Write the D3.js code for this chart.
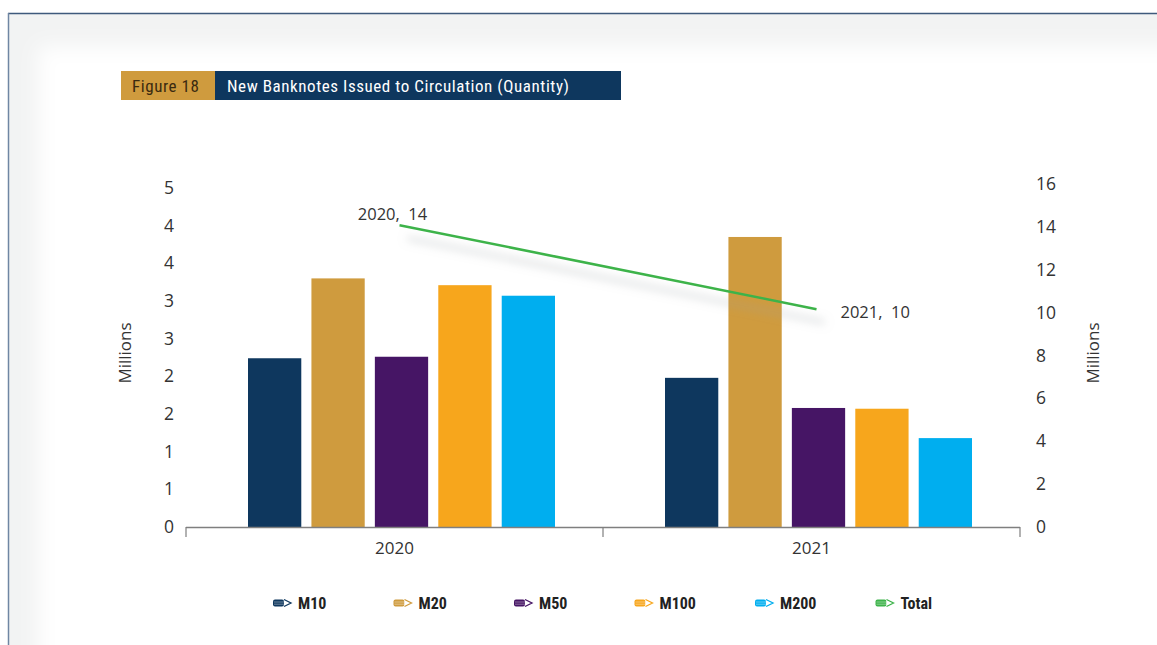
<!DOCTYPE html>
<html><head><meta charset="utf-8">
<script src="https://cdn.jsdelivr.net/npm/d3@7"></script>
<style>
html,body{margin:0;padding:0;background:#fff;}
svg{display:block;}
</style></head>
<body>
<svg id="c" width="1157" height="645"></svg>
<script>
const categories = ["2020", "2021"];
const seriesNames = ["M10", "M20", "M50", "M100", "M200"];
const m10 = [2.24, 1.98];
const m20 = [3.30, 3.85];
const m50 = [2.26, 1.58];
const m100 = [3.21, 1.57];
const m200 = [3.07, 1.18];
const total = [14.08, 10.16];
const totalLabels = ["2020, 14", "2021, 10"];
const leftTicks = [0, 0.5, 1, 1.5, 2, 2.5, 3, 3.5, 4, 4.5];
const leftTickLabels = ["0", "1", "1", "2", "2", "3", "3", "4", "4", "5"];
const rightTicks = [0, 2, 4, 6, 8, 10, 12, 14, 16];
const colors = {M10:"#0e375e", M20:"#cf9b3e", M50:"#461565", M100:"#f7a61c", M200:"#00aeef", Total:"#3db34a"};
const seriesValues = {M10:m10, M20:m20, M50:m50, M100:m100, M200:m200};

const svg = d3.select("#c");
const defs = svg.append("defs");
const fb = defs.append("filter").attr("id","soft").attr("x","-10%").attr("y","-10%").attr("width","120%").attr("height","120%");
fb.append("feGaussianBlur").attr("stdDeviation", 10);
const sh = defs.append("filter").attr("id","lineShadow").attr("x","-20%").attr("y","-100%").attr("width","140%").attr("height","400%");
sh.append("feGaussianBlur").attr("in","SourceAlpha").attr("stdDeviation",5).attr("result","b");
sh.append("feOffset").attr("in","b").attr("dx",8).attr("dy",13).attr("result","o");
sh.append("feFlood").attr("flood-color","#9aa0a4").attr("flood-opacity",0.6);
sh.append("feComposite").attr("in2","o").attr("operator","in").attr("result","s");
const mg = sh.append("feMerge");
mg.append("feMergeNode").attr("in","s");
mg.append("feMergeNode").attr("in","SourceGraphic");

// page frame
svg.append("rect").attr("x",9).attr("y",14).attr("width",1160).attr("height",640).attr("fill","#f2f3f3");
svg.append("rect").attr("x",38).attr("y",46).attr("width",1150).attr("height",640).attr("fill","#fff").attr("filter","url(#soft)");
svg.append("line").attr("x1",8).attr("x2",1157).attr("y1",13.5).attr("y2",13.5).attr("stroke","#3f5a7c").attr("stroke-width",1.5);
svg.append("line").attr("x1",8.5).attr("x2",8.5).attr("y1",13).attr("y2",645).attr("stroke","#6f86a3").attr("stroke-width",1.5);

// title
const narrow = "'Liberation Sans Narrow','Arial Narrow','Roboto Condensed',sans-serif";
svg.append("rect").attr("x",121).attr("y",71).attr("width",94).attr("height",29).attr("fill","#cf9b3e");
svg.append("rect").attr("x",215).attr("y",71).attr("width",406).attr("height",29).attr("fill","#0e375e");
svg.append("text").attr("x",132).attr("y",92).attr("font-family",narrow).attr("font-size",17)
  .attr("textLength",67).attr("lengthAdjust","spacing").attr("fill","#3a2a10").text("Figure 18");
svg.append("text").attr("x",227).attr("y",92).attr("font-family",narrow).attr("font-size",17)
  .attr("textLength",342).attr("lengthAdjust","spacing").attr("fill","#fff").text("New Banknotes Issued to Circulation (Quantity)");

// scales
const x0 = d3.scaleBand().domain(categories).range([186, 1020]).padding(0);
const x1 = d3.scaleBand().domain(seriesNames).range([62, 369]).paddingInner(0.16).paddingOuter(0);
const yL = d3.scaleLinear().domain([0, 4.5]).range([527, 188]);
const yR = d3.scaleLinear().domain([0, 16]).range([527, 184]);
const font = "'Open Sans','Noto Sans',sans-serif";

// bars
categories.forEach((c, i) => {
  const g = svg.append("g").attr("transform", `translate(${x0(c)},0)`);
  g.selectAll("rect").data(seriesNames).join("rect")
    .attr("x", s => x1(s)).attr("width", x1.bandwidth())
    .attr("y", s => yL(seriesValues[s][i])).attr("height", s => yL(0) - yL(seriesValues[s][i]))
    .attr("fill", s => colors[s]);
});

// x axis
const xAxis = svg.append("g").attr("transform","translate(0,527)")
  .call(d3.axisBottom(x0).tickSize(0).tickFormat(d=>d));
xAxis.select(".domain").remove();
xAxis.selectAll("text").attr("font-family",font).attr("font-size",17).attr("fill","#333").attr("dy","1.4em");
svg.append("line").attr("x1",186).attr("x2",1020).attr("y1",527.5).attr("y2",527.5).attr("stroke","#7f7f7f").attr("stroke-width",1.5);
const bounds = [x0.range()[0], x0(categories[1]), x0.range()[1]];
svg.selectAll(".ct").data(bounds).join("line").attr("class","ct")
  .attr("x1",d=>d).attr("x2",d=>d).attr("y1",527).attr("y2",537).attr("stroke","#7f7f7f").attr("stroke-width",1.2);

// left axis
const lAx = svg.append("g").attr("transform","translate(174,0)")
  .call(d3.axisLeft(yL).tickValues(leftTicks).tickSize(0).tickFormat((d,i)=>leftTickLabels[i]));
lAx.select(".domain").remove();
lAx.selectAll("text").attr("font-family",font).attr("font-size",17.5).attr("fill","#333").attr("x",0);

// right axis
const rAx = svg.append("g").attr("transform","translate(1036,0)")
  .call(d3.axisRight(yR).tickValues(rightTicks).tickSize(0));
rAx.select(".domain").remove();
rAx.selectAll("text").attr("font-family",font).attr("font-size",17.5).attr("fill","#333").attr("x",0);

// axis titles
svg.append("text").attr("transform","translate(131,353) rotate(-90)").attr("text-anchor","middle")
  .attr("font-family",font).attr("font-size",17).attr("fill","#333").text("Millions");
svg.append("text").attr("transform","translate(1099,353) rotate(-90)").attr("text-anchor","middle")
  .attr("font-family",font).attr("font-size",17).attr("fill","#333").text("Millions");

// total line
const lx = c => x0(c) + x0.bandwidth()/2 + 5;
const line = d3.line().x((d,i)=>lx(categories[i])).y(d=>yR(d));
svg.append("path").datum(total).attr("d", line).attr("fill","none")
  .attr("stroke", colors.Total).attr("stroke-width", 2.5).attr("filter","url(#lineShadow)");
svg.append("text").attr("x", lx(categories[0]) - 7).attr("y", yR(total[0]) - 5).attr("text-anchor","middle")
  .attr("font-family",font).attr("font-size",16.5).attr("fill","#333").attr("xml:space","preserve").text(totalLabels[0].replace(", ",",  "));
svg.append("text").attr("x", lx(categories[1]) + 24).attr("y", yR(total[1]) + 9)
  .attr("font-family",font).attr("font-size",16.5).attr("fill","#333").attr("xml:space","preserve").text(totalLabels[1].replace(", ",",  "));

// legend
const legendItems = seriesNames.concat(["Total"]);
const lg = svg.append("g").attr("transform","translate(273,603)");
const lgi = lg.selectAll("g").data(legendItems).join("g").attr("transform",(d,i)=>`translate(${i*120.5},0)`);
lgi.append("rect").attr("x",0).attr("y",-3.5).attr("width",11).attr("height",7).attr("rx",2).attr("fill",d=>colors[d]);
lgi.append("line").attr("x1",1).attr("x2",11).attr("y1",-1).attr("y2",-1).attr("stroke","#fff").attr("stroke-opacity",0.5).attr("stroke-width",0.8);
lgi.append("line").attr("x1",1).attr("x2",11).attr("y1",1.2).attr("y2",1.2).attr("stroke","#fff").attr("stroke-opacity",0.5).attr("stroke-width",0.8);
lgi.append("path").attr("d","M11,-3.5 L18,0 L11,3.5").attr("fill","#fff").attr("stroke",d=>colors[d]).attr("stroke-width",1.3);
lgi.append("text").attr("x",25).attr("y",5.5).attr("font-family",narrow).attr("font-size",16).attr("font-weight","bold").attr("fill","#222").text(d=>d);
</script>
</body></html>
